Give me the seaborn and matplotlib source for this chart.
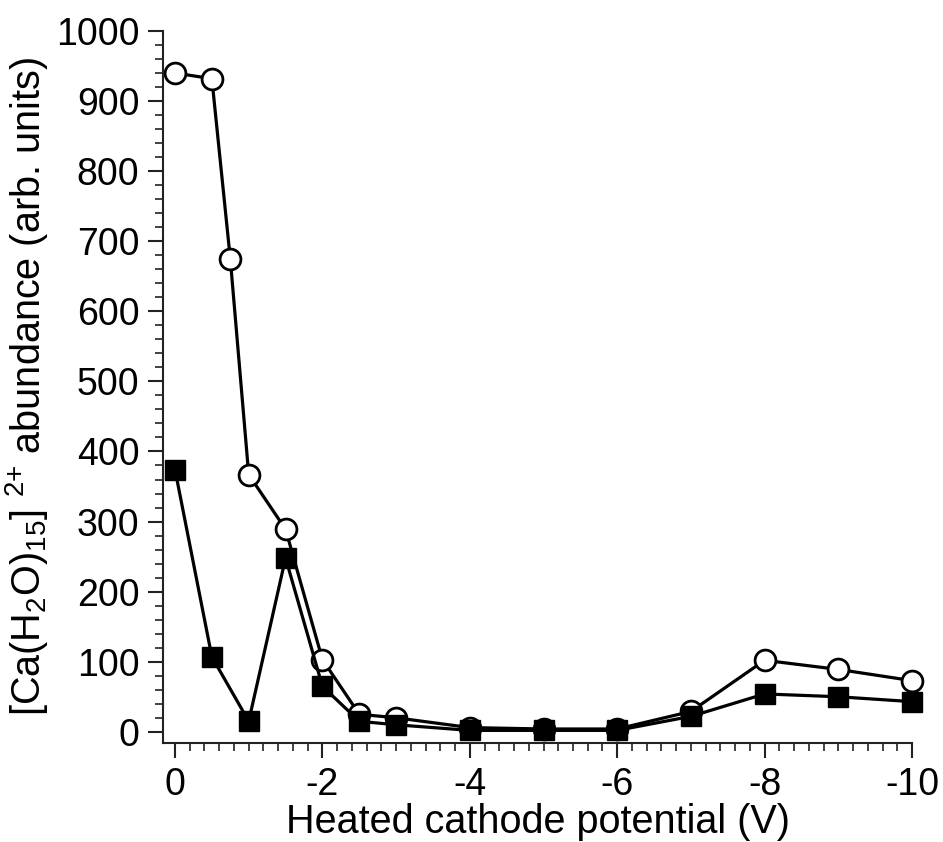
import numpy as np
import pandas as pd
import matplotlib
matplotlib.use("Agg")
import matplotlib.pyplot as plt
import seaborn as sns
from matplotlib.ticker import MultipleLocator

# Data
x_circ = [0, -0.5, -0.75, -1, -1.5, -2, -2.5, -3, -4, -5, -6, -7, -8, -9, -10]
y_circ = [940, 932, 675, 367, 289, 103, 25, 20, 6, 4, 4, 29, 102, 89, 73]
x_sq = [0, -0.5, -1, -1.5, -2, -2.5, -3, -4, -5, -6, -7, -8, -9, -10]
y_sq = [374, 107, 15, 248, 65, 15, 10, 2, 2, 2, 22, 54, 50, 43]

xlabel = "Heated cathode potential (V)"
ylabel = r"[Ca(H$_2$O)$_{15}$] $^{2{+}}$ abundance (arb. units)"
xtick_vals = [0, -2, -4, -6, -8, -10]
xtick_labels = ["0", "-2", "-4", "-6", "-8", "-10"]

sns.set_theme(style="ticks")
plt.rcParams["font.family"] = ["Liberation Sans", "DejaVu Sans"]
plt.rcParams["mathtext.fontset"] = "custom"
plt.rcParams["mathtext.rm"] = "Liberation Sans"
plt.rcParams["mathtext.it"] = "Liberation Sans"
plt.rcParams["mathtext.default"] = "regular"
for k in ["text.color", "axes.labelcolor", "xtick.color", "ytick.color"]:
    plt.rcParams[k] = "black"

df_c = pd.DataFrame({"x": x_circ, "y": y_circ})
df_s = pd.DataFrame({"x": x_sq, "y": y_sq})

fig = plt.figure(figsize=(9.43, 8.42), dpi=100)
ax = fig.add_axes([163 / 943, 1 - 743 / 842, (912 - 163) / 943, (743 - 31) / 842])

sns.lineplot(data=df_c, x="x", y="y", ax=ax, color="black", linewidth=2.3,
             marker="o", markersize=15, markerfacecolor="white",
             markeredgecolor="black", markeredgewidth=2.0, sort=False,
             clip_on=False)
sns.lineplot(data=df_s, x="x", y="y", ax=ax, color="black", linewidth=2.3,
             marker="s", markersize=15, markerfacecolor="black",
             markeredgecolor="black", markeredgewidth=1.0, sort=False,
             clip_on=False)

ax.set_xlim(0.163, -10)
ax.set_ylim(-16, 1000)
ax.xaxis.set_minor_locator(MultipleLocator(0.2))
ax.yaxis.set_major_locator(MultipleLocator(100))
ax.yaxis.set_minor_locator(MultipleLocator(20))
ax.set_xticks(xtick_vals)
ax.set_xticklabels(xtick_labels)

for s in ["top", "right"]:
    ax.spines[s].set_visible(False)
for s in ["left", "bottom"]:
    ax.spines[s].set_linewidth(1.5)
    ax.spines[s].set_color("#222222")

ax.tick_params(axis="both", which="major", direction="out", length=11,
               width=1.5, labelsize=27, pad=6, color="#222222")
ax.tick_params(axis="both", which="minor", direction="out", length=6,
               width=1.2, color="#222222")

ax.set_xlabel(xlabel, fontsize=28.5, labelpad=0)
ax.set_ylabel(ylabel, fontsize=28.5, labelpad=4)

fig.savefig("out.png", dpi=100)
